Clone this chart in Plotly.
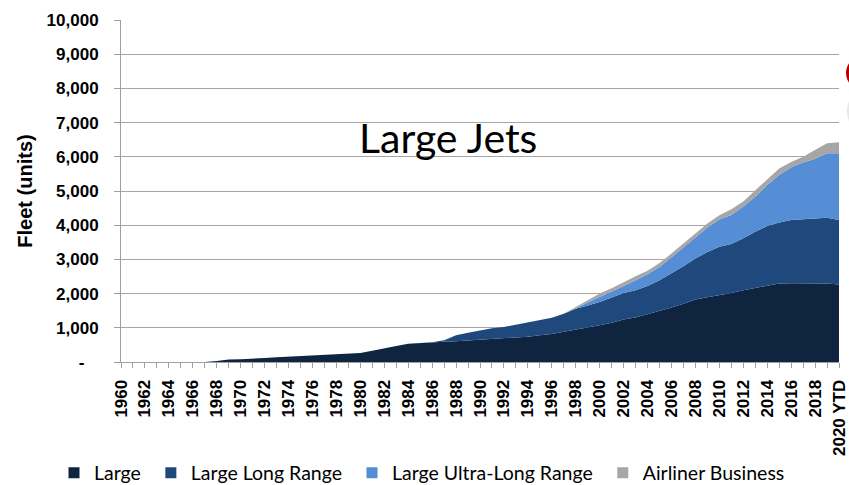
import plotly.graph_objects as go

years = list(range(1960, 2021))
year_labels = [str(y) for y in range(1960, 2020)] + ["2020 YTD"]

large = ([0] * 8 +
         [30, 70, 80, 110, 120, 140, 160, 175, 195, 225, 235, 255] +
         [265, 330, 410, 470, 530, 555, 575, 590, 605, 625] +
         [645, 665, 685, 710, 740, 780, 820, 885, 945, 1010] +
         [1075, 1150, 1240, 1300, 1395, 1475, 1590, 1705, 1825, 1895] +
         [1950, 2020, 2100, 2170, 2245, 2295, 2300, 2300, 2300, 2295] +
         [2265])

large_long_range = ([0] * 26 +
                    [5, 45, 175, 230] +
                    [280, 320, 340, 380, 430, 455, 475, 525, 610, 640] +
                    [680, 735, 780, 800, 830, 915, 995, 1095, 1200, 1325] +
                    [1420, 1430, 1515, 1640, 1730, 1785, 1850, 1880, 1900, 1925] +
                    [1885])

large_ultra_long_range = ([0] * 38 +
                          [30, 90] +
                          [145, 170, 205, 290, 340, 390, 470, 545, 615, 710] +
                          [800, 850, 930, 1025, 1200, 1385, 1545, 1650, 1740, 1885] +
                          [1955])

airliner_business = ([0] * 38 +
                     [20, 40] +
                     [100, 100, 115, 115, 100, 115, 115, 115, 115, 120] +
                     [120, 165, 150, 175, 170, 195, 150, 175, 260, 290] +
                     [320])

series_names = ["Large", "Large Long Range", "Large Ultra-Long Range", "Airliner Business"]
series_values = [large, large_long_range, large_ultra_long_range, airliner_business]
series_colors = ["#0F243E", "#1F497D", "#558ED5", "#A6A6A6"]

y_ticks = list(range(0, 10001, 1000))
y_tick_text = ["-\u00a0\u00a0\u00a0"] + [f"{v:,}" for v in y_ticks[1:]]

W, H = 849, 485
L, T = 121, 20
R = W - 839
B = H - 362
PW = W - L - R
PH = H - T - B

fig = go.Figure()
for name, vals, col in zip(series_names, series_values, series_colors):
    fig.add_trace(go.Scatter(
        x=years, y=vals, name=name, stackgroup="one", mode="lines",
        line=dict(width=0, color=col), fillcolor=col, showlegend=False))
for name, col in zip(series_names, series_colors):
    fig.add_trace(go.Scatter(
        x=[None], y=[None], name=name + "\u00a0", mode="markers",
        marker=dict(symbol="square", size=11, color=col)))

fig.add_annotation(text="Large Jets", x=0.455, y=0.655, xref="paper", yref="paper",
                   showarrow=False, xanchor="center", yanchor="middle",
                   font=dict(family="Lato", size=41, color="black"))

def px_x(page_x):
    return (page_x - L) / PW

def px_y(page_y):
    return (362 - page_y) / PH

# partial logo at right edge
fig.add_shape(type="circle", xref="paper", yref="paper",
              x0=px_x(846), x1=px_x(880), y0=px_y(90), y1=px_y(56),
              fillcolor="#B80000", line=dict(width=0), layer="above")
fig.add_shape(type="circle", xref="paper", yref="paper",
              x0=px_x(847), x1=px_x(880), y0=px_y(132), y1=px_y(90),
              fillcolor="#E8E8E8", line=dict(width=0), layer="above")

fig.update_layout(
    width=W, height=H,
    margin=dict(l=L, r=R, t=T, b=B, autoexpand=False),
    paper_bgcolor="white", plot_bgcolor="white",
    showlegend=True,
    legend=dict(orientation="h", x=px_x(54), xanchor="left", y=px_y(473), yanchor="middle",
                font=dict(family="Lato", size=19.5, color="black"),
                itemwidth=30, traceorder="normal", bgcolor="rgba(0,0,0,0)"),
    xaxis=dict(
        range=[1960, 2020], tickmode="array", tickvals=years[::2], ticktext=year_labels[::2],
        tickangle=-90, tickfont=dict(family="Liberation Sans", size=17, color="black", weight="bold"),
        showgrid=False, zeroline=False, showline=True, linecolor="#A0A0A0", linewidth=1,
        ticks="outside", ticklen=5, tickcolor="#A0A0A0", ticklabelstandoff=5, automargin=False,
        minor=dict(ticks="outside", dtick=1, tick0=1960, ticklen=5, tickcolor="#A0A0A0", showgrid=False),
    ),
    yaxis=dict(
        range=[0, 10000], tickmode="array", tickvals=y_ticks, ticktext=y_tick_text,
        tickfont=dict(family="Liberation Sans", size=17, color="black", weight="bold"),
        showgrid=True, gridcolor="#A6A6A6", gridwidth=1, zeroline=False,
        showline=True, linecolor="#A0A0A0", linewidth=1, automargin=False,
        ticks="outside", ticklen=6, tickcolor="#A0A0A0", ticklabelstandoff=12,
        title=dict(text="Fleet (units)", standoff=8,
                   font=dict(family="Liberation Sans", size=20, color="black", weight="bold")),
    ),
)

fig.write_html("out.html", config={"displayModeBar": False},
               post_script="document.body.style.margin='0';document.body.style.overflow='hidden';")
